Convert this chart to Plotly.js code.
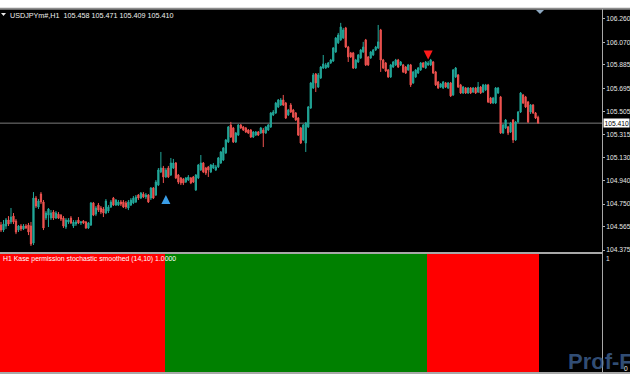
<!DOCTYPE html>
<html>
<head>
<meta charset="utf-8">
<script src="https://cdn.plot.ly/plotly-3.0.1.min.js"></script>
<style>
html,body{margin:0;padding:0;background:#fff;}
#chart{width:630px;height:380px;}
</style>
</head>
<body>
<div id="chart"></div>
<script>
// ---- DATA (USDJPYm#, H1) ----
const symbolLabel = "USDJPYm#,H1";
const indicatorLabel = "H1 Kase permission stochastic smoothed (14,10) 1.0000";
const watermarkLabel = "Prof-F";
const priceTicks = [106.260, 106.070, 105.885, 105.695, 105.505, 105.315, 105.130, 104.940, 104.750, 104.565, 104.375];

const openP = [
104.579,104.538,104.571,104.620,104.604,104.652,104.612,104.538,104.571,104.547,
104.571,104.579,104.571,104.432,104.799,104.726,104.832,104.767,104.636,104.660,
104.636,104.685,104.636,104.668,104.660,104.636,104.563,104.604,104.636,104.571,
104.587,104.620,104.596,104.612,104.604,104.555,104.579,104.759,104.668,104.742,
104.718,104.710,104.677,104.693,104.726,104.799,104.742,104.742,104.767,104.767,
104.759,104.718,104.742,104.759,104.767,104.824,104.799,104.832,104.808,104.824,
104.799,104.881,104.824,104.905,105.012,105.044,104.971,105.044,104.987,105.044,
105.085,104.987,104.963,104.954,104.930,104.946,104.963,104.971,104.865,104.963,
105.028,105.085,105.044,105.053,105.012,105.044,105.028,105.053,105.085,105.109,
105.167,105.257,105.395,105.371,105.257,105.313,105.395,105.379,105.371,105.354,
105.354,105.297,105.313,105.338,105.330,105.354,105.330,105.354,105.379,105.477,
105.493,105.542,105.558,105.599,105.574,105.477,105.558,105.517,105.493,105.452,
105.371,105.273,105.248,105.379,105.534,105.697,105.811,105.705,105.779,105.860,
105.860,105.868,105.901,105.917,105.991,106.065,106.089,106.105,106.187,106.031,
105.983,105.983,105.860,105.909,105.942,105.991,106.089,105.950,105.942,105.966,
106.007,106.023,106.170,105.925,105.901,105.844,105.787,105.868,105.885,105.925,
105.885,105.885,105.868,105.844,105.885,105.738,105.787,105.819,105.844,105.901,
105.860,105.885,105.885,105.909,105.828,105.746,105.705,105.697,105.738,105.697,
105.738,105.640,105.787,105.803,105.722,105.656,105.697,105.656,105.697,105.664,
105.697,105.664,105.705,105.664,105.681,105.722,105.615,105.574,105.574,105.656,
105.624,105.330,105.371,105.379,105.338,105.436,105.273,105.420,105.501,105.640,
105.624,105.583,105.501,105.558,105.493,105.458];

const highP = [
104.604,104.620,104.636,104.652,104.718,104.677,104.628,104.579,104.587,104.587,
104.587,104.596,104.604,104.848,104.816,104.791,104.848,104.783,104.693,104.718,
104.701,104.701,104.693,104.685,104.668,104.652,104.636,104.636,104.652,104.620,
104.620,104.644,104.612,104.620,104.612,104.604,104.767,104.767,104.734,104.759,
104.734,104.726,104.791,104.742,104.783,104.808,104.791,104.783,104.783,104.783,
104.775,104.783,104.799,104.816,104.824,104.832,104.848,104.848,104.840,104.832,
104.889,104.889,104.946,105.044,105.175,105.061,105.044,105.061,105.126,105.118,
105.093,104.995,104.971,104.963,104.971,104.987,104.971,104.979,104.995,105.077,
105.150,105.093,105.053,105.061,105.077,105.085,105.069,105.134,105.183,105.215,
105.281,105.387,105.420,105.379,105.338,105.403,105.403,105.387,105.379,105.362,
105.362,105.346,105.346,105.346,105.379,105.371,105.387,105.403,105.501,105.517,
105.583,105.607,105.615,105.640,105.583,105.526,105.574,105.526,105.501,105.460,
105.379,105.403,105.420,105.550,105.746,105.819,105.819,105.819,105.876,105.966,
105.901,105.909,105.934,106.031,106.113,106.146,106.228,106.187,106.195,106.040,
105.991,105.991,105.934,105.974,106.015,106.073,106.097,105.958,105.999,106.015,
106.040,106.211,106.179,105.934,105.909,105.852,105.893,105.917,105.934,105.934,
105.917,105.893,105.876,105.893,105.893,105.836,105.852,105.868,105.909,105.909,
105.917,105.917,105.934,105.917,105.836,105.754,105.738,105.754,105.746,105.746,
105.746,105.852,105.868,105.811,105.730,105.713,105.705,105.705,105.705,105.705,
105.705,105.746,105.713,105.730,105.730,105.730,105.624,105.624,105.705,105.705,
105.632,105.403,105.444,105.387,105.420,105.444,105.428,105.509,105.664,105.648,
105.632,105.591,105.566,105.566,105.501,105.471];

const lowP = [
104.522,104.522,104.547,104.571,104.587,104.587,104.505,104.522,104.530,104.538,
104.547,104.497,104.408,104.416,104.718,104.710,104.750,104.538,104.620,104.563,
104.620,104.620,104.628,104.628,104.612,104.555,104.547,104.587,104.587,104.555,
104.571,104.587,104.579,104.587,104.547,104.547,104.571,104.652,104.652,104.685,
104.668,104.644,104.668,104.677,104.718,104.734,104.734,104.734,104.734,104.718,
104.710,104.701,104.734,104.750,104.759,104.783,104.791,104.799,104.791,104.759,
104.783,104.791,104.816,104.897,105.003,104.922,104.963,104.963,104.979,105.036,
104.954,104.913,104.905,104.905,104.922,104.938,104.913,104.922,104.857,104.954,
105.020,105.003,104.987,104.971,105.003,105.036,105.020,105.044,105.077,105.101,
105.159,105.248,105.289,105.248,105.248,105.305,105.362,105.346,105.330,105.322,
105.289,105.289,105.305,105.305,105.322,105.215,105.322,105.346,105.371,105.468,
105.485,105.534,105.550,105.550,105.444,105.468,105.493,105.452,105.428,105.305,
105.240,105.265,105.175,105.371,105.526,105.689,105.664,105.697,105.770,105.852,
105.852,105.860,105.893,105.909,105.983,106.056,106.081,106.097,106.023,105.909,
105.942,105.852,105.852,105.901,105.934,105.983,105.876,105.876,105.934,105.958,
105.999,106.015,105.828,105.852,105.828,105.779,105.779,105.860,105.876,105.860,
105.876,105.819,105.811,105.836,105.705,105.730,105.779,105.811,105.836,105.860,
105.852,105.876,105.876,105.811,105.713,105.689,105.697,105.689,105.697,105.689,
105.624,105.632,105.779,105.697,105.648,105.648,105.648,105.648,105.648,105.656,
105.648,105.656,105.648,105.656,105.673,105.574,105.566,105.566,105.566,105.648,
105.322,105.322,105.362,105.313,105.330,105.248,105.265,105.411,105.493,105.566,
105.534,105.411,105.485,105.485,105.444,105.409];

const closeP = [
104.538,104.587,104.620,104.587,104.644,104.604,104.522,104.571,104.547,104.571,
104.555,104.522,104.424,104.799,104.734,104.775,104.767,104.555,104.677,104.710,
104.677,104.636,104.677,104.636,104.628,104.571,104.620,104.620,104.596,104.604,
104.604,104.596,104.604,104.596,104.555,104.596,104.759,104.660,104.718,104.701,
104.685,104.677,104.775,104.726,104.767,104.742,104.783,104.767,104.750,104.726,
104.726,104.767,104.783,104.799,104.808,104.799,104.840,104.808,104.824,104.767,
104.881,104.799,104.930,105.028,105.044,104.971,105.028,104.971,105.085,105.085,
104.963,104.930,104.922,104.922,104.963,104.971,104.922,104.930,104.987,105.069,
105.085,105.012,105.003,105.028,105.069,105.069,105.053,105.126,105.175,105.207,
105.273,105.379,105.297,105.257,105.330,105.395,105.371,105.354,105.338,105.330,
105.297,105.338,105.338,105.313,105.371,105.330,105.379,105.395,105.493,105.501,
105.574,105.599,105.599,105.558,105.452,105.517,105.501,105.460,105.436,105.313,
105.248,105.395,105.411,105.542,105.738,105.803,105.738,105.803,105.868,105.893,
105.885,105.901,105.925,106.023,106.105,106.129,106.195,106.170,106.031,105.950,
105.950,105.860,105.925,105.966,106.007,106.031,105.885,105.885,105.991,106.007,
106.031,106.073,105.925,105.860,105.836,105.787,105.885,105.909,105.925,105.868,
105.909,105.828,105.819,105.885,105.722,105.828,105.844,105.860,105.901,105.868,
105.909,105.901,105.925,105.819,105.722,105.697,105.730,105.746,105.705,105.738,
105.632,105.844,105.860,105.705,105.656,105.705,105.656,105.697,105.656,105.697,
105.656,105.705,105.656,105.722,105.722,105.583,105.574,105.615,105.697,105.697,
105.330,105.395,105.436,105.330,105.411,105.273,105.420,105.501,105.656,105.574,
105.542,105.420,105.558,105.493,105.452,105.410];

// Kase permission state per run of bars (down / up / down)
const permStates  = ["down", "up", "down"];
const permLengths = [66, 105, 45];
const permValue = 1;
// signal arrows (bar index, price)
const buySignalBar = 66,  buySignalPrice = 104.823;
const sellSignalBar = 171, sellSignalPrice = 105.930;

// ---- BUILD ----
const n = openP.length;
const idx = openP.map((_, i) => i);
const permX = [], permY = [], permC = [];
let k = 0;
permStates.forEach((s, j) => {
  for (let t = 0; t < permLengths[j]; t++) {
    permX.push(k); permY.push(permValue);
    permC.push(s === "up" ? "#008000" : "#ff0000");
    k++;
  }
});

const last = n - 1;
const fmt = v => v.toFixed(3);
const W = 630, H = 380;
const py = p => 1 - p / H;   // pixel-from-top -> paper
const px = p => p / W;

const plotRight = 602;
const spacing = 2.498;
const xr0 = -1 / spacing, xr1 = (plotRight - 1) / spacing;

const traces = [
  {
    type: "candlestick", x: idx, open: openP, high: highP, low: lowP, close: closeP,
    xaxis: "x", yaxis: "y",
    increasing: {line: {color: "#22a89a", width: 1}, fillcolor: "#22a89a"},
    decreasing: {line: {color: "#ef5350", width: 1}, fillcolor: "#ef5350"},
    whiskerwidth: 0, hoverinfo: "skip", showlegend: false
  },
  {
    type: "bar", x: permX, y: permY, xaxis: "x", yaxis: "y2",
    marker: {color: permC, line: {width: 0}}, width: 1,
    hoverinfo: "skip", showlegend: false
  },
  {
    type: "scatter", mode: "markers", x: [buySignalBar], y: [buySignalPrice],
    xaxis: "x", yaxis: "y",
    marker: {symbol: "arrow-up", size: 9, color: "#3a9ee8", line: {width: 0}},
    hoverinfo: "skip", showlegend: false
  },
  {
    type: "scatter", mode: "markers", x: [sellSignalBar], y: [sellSignalPrice],
    xaxis: "x", yaxis: "y",
    marker: {symbol: "arrow-down", size: 9, color: "#ff1a1a", line: {width: 0}},
    hoverinfo: "skip", showlegend: false
  }
];

const axFont = {family: "Liberation Sans, Arial, sans-serif", size: 6.7, color: "#e6e6e6"};

const layout = {
  width: W, height: H,
  margin: {l: 0, r: 0, t: 0, b: 0, pad: 0},
  paper_bgcolor: "#ffffff",
  plot_bgcolor: "#000000",
  showlegend: false,
  bargap: 0,
  xaxis: {
    domain: [0, px(plotRight)], range: [xr0, xr1], anchor: "y2",
    showgrid: false, zeroline: false, showticklabels: false, ticks: "",
    showline: false, rangeslider: {visible: false}, fixedrange: true
  },
  yaxis: {
    domain: [py(252), py(10)], range: [104.359, 106.333], side: "right",
    anchor: "x", showgrid: false, zeroline: false,
    tickmode: "array", tickvals: priceTicks, ticktext: priceTicks.map(fmt),
    ticks: "outside", ticklen: 2, tickcolor: "#b0b0b0", tickwidth: 1,
    ticklabelstandoff: 0, tickfont: axFont, automargin: false, showline: false
  },
  yaxis2: {
    domain: [py(372), py(254)], range: [0, 1], side: "right", anchor: "x",
    showgrid: false, zeroline: false, showticklabels: false, ticks: "",
    automargin: false, showline: false
  },
  shapes: [
    {type: "rect", xref: "paper", yref: "paper", x0: 0, x1: 1, y0: py(373.5), y1: py(8),
     fillcolor: "#000000", line: {width: 0}, layer: "below"},
    {type: "line", xref: "paper", yref: "paper", x0: 0, x1: 1, y0: py(8.8), y1: py(8.8),
     line: {color: "#8e8e8e", width: 2}},
    {type: "line", xref: "paper", yref: "paper", x0: 0, x1: px(plotRight), y0: py(253), y1: py(253),
     line: {color: "#a8a8a8", width: 2}},
    {type: "line", xref: "paper", yref: "paper", x0: 0, x1: 1, y0: py(373), y1: py(373),
     line: {color: "#a8a8a8", width: 2}},
    {type: "line", xref: "paper", yref: "paper", x0: px(plotRight + 0.5), x1: px(plotRight + 0.5), y0: py(373), y1: py(9),
     line: {color: "#a8a8a8", width: 1}},
    {type: "line", xref: "paper", yref: "y", x0: 0, x1: px(plotRight), y0: closeP[last], y1: closeP[last],
     line: {color: "#7c7c7c", width: 1}, layer: "below"},
    {type: "path", xref: "paper", yref: "paper",
     path: `M ${px(536)} ${py(10)} L ${px(544)} ${py(10)} L ${px(540)} ${py(14)} Z`,
     fillcolor: "#8ea9c2", line: {width: 0}},
    {type: "path", xref: "paper", yref: "paper",
     path: `M ${px(1)} ${py(13)} L ${px(6)} ${py(13)} L ${px(3.5)} ${py(16)} Z`,
     fillcolor: "#e8e8e8", line: {width: 0}}
  ],
  annotations: [
    {xref: "paper", yref: "paper", x: px(8), y: py(15), xanchor: "left", yanchor: "middle",
     text: `${symbolLabel}  ${fmt(openP[last])} ${fmt(highP[last])} ${fmt(lowP[last])} ${fmt(closeP[last])}`,
     showarrow: false, font: {family: "Liberation Sans, Arial, sans-serif", size: 7.2, color: "#f0f0f0"}},
    {xref: "paper", yref: "paper", x: px(1), y: py(259), xanchor: "left", yanchor: "middle",
     text: indicatorLabel, showarrow: false,
     font: {family: "Liberation Sans, Arial, sans-serif", size: 6.9, color: "#ffffff"}},
    {xref: "paper", yref: "y", x: px(603), y: closeP[last], xanchor: "left", yanchor: "middle",
     text: fmt(closeP[last]), showarrow: false, bgcolor: "#ffffff", borderpad: 0.5,
     font: {family: "Liberation Sans, Arial, sans-serif", size: 6.7, color: "#000000"}},
    {xref: "paper", yref: "paper", x: px(566), y: py(361), xanchor: "left", yanchor: "middle",
     text: `<b>${watermarkLabel}</b>`, showarrow: false,
     font: {family: "Liberation Sans, Arial, sans-serif", size: 22, color: "rgba(72,112,170,0.7)"}},
    {xref: "paper", yref: "paper", x: px(604), y: py(258), xanchor: "left", yanchor: "middle",
     text: "1", showarrow: false, font: axFont},
    {xref: "paper", yref: "paper", x: px(622), y: py(368), xanchor: "left", yanchor: "middle",
     text: "0", showarrow: false, font: axFont}
  ]
};

Plotly.newPlot("chart", traces, layout, {staticPlot: true, displayModeBar: false});
</script>
</body>
</html>
